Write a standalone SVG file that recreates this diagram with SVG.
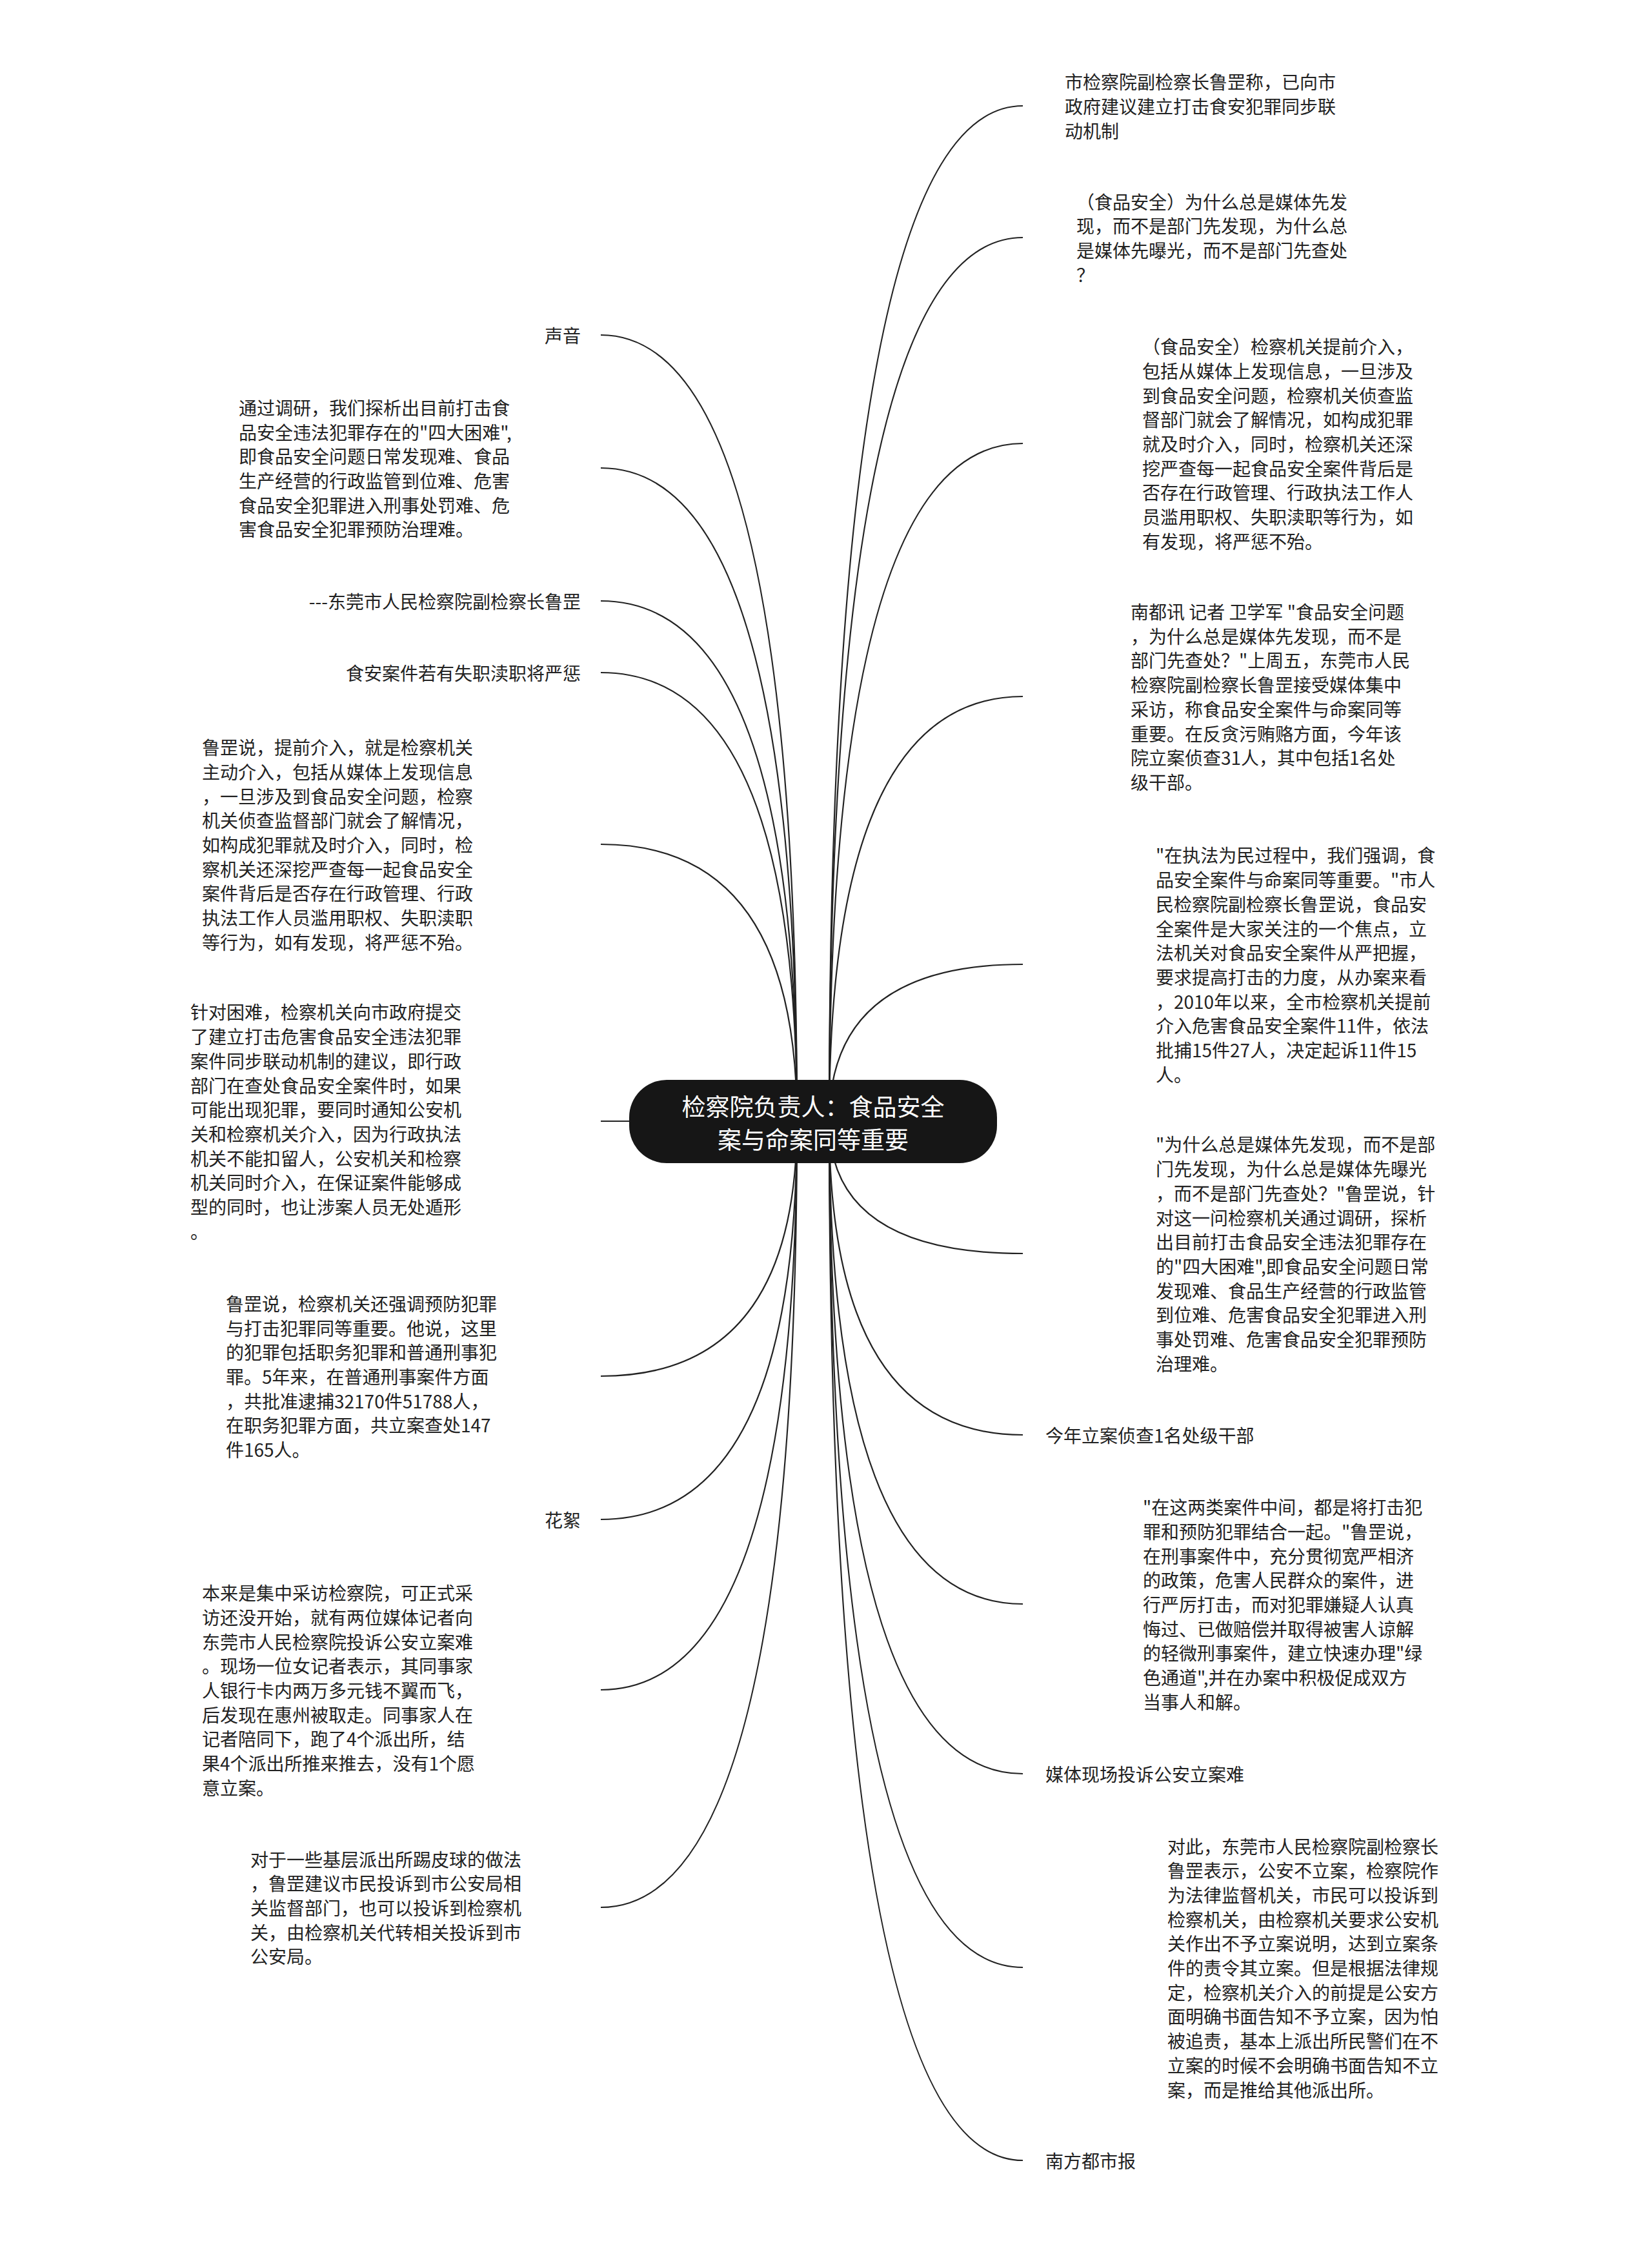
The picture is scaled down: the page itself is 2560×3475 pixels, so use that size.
<svg xmlns="http://www.w3.org/2000/svg" width="2560" height="3475" viewBox="0 0 2560 3475">
<style>
.bg{fill:#ffffff}
.edge{fill:none;stroke:#222;stroke-width:2.2}
.t{font-family:"Noto Sans CJK SC","Noto Sans",sans-serif;font-size:28px;fill:#222;dominant-baseline:central}
.r{text-anchor:end}
.root rect{fill:#161616}
.root text{font-family:"Noto Sans CJK SC","Noto Sans",sans-serif;font-size:37px;fill:#ffffff;text-anchor:middle;dominant-baseline:central}
</style>
<rect class="bg" x="0" y="0" width="2560" height="3475"/>
<g id="connectors">
<path class="edge" d="M1285 1737 Q1285 164 1585 164"/>
<path class="edge" d="M1285 1737 Q1285 368 1585 368"/>
<path class="edge" d="M1285 1737 Q1285 687 1585 687"/>
<path class="edge" d="M1285 1737 Q1285 1079 1585 1079"/>
<path class="edge" d="M1285 1737 Q1285 1494 1585 1494"/>
<path class="edge" d="M1285 1737 Q1285 1942 1585 1942"/>
<path class="edge" d="M1285 1737 Q1285 2223 1585 2223"/>
<path class="edge" d="M1285 1737 Q1285 2485 1585 2485"/>
<path class="edge" d="M1285 1737 Q1285 2748 1585 2748"/>
<path class="edge" d="M1285 1737 Q1285 3048 1585 3048"/>
<path class="edge" d="M1285 1737 Q1285 3347 1585 3347"/>
<path class="edge" d="M1235 1737 Q1235 519 931 519"/>
<path class="edge" d="M1235 1737 Q1235 725 931 725"/>
<path class="edge" d="M1235 1737 Q1235 931 931 931"/>
<path class="edge" d="M1235 1737 Q1235 1042 931 1042"/>
<path class="edge" d="M1235 1737 Q1235 1308 931 1308"/>
<path class="edge" d="M1235 1737 L931 1737"/>
<path class="edge" d="M1235 1737 Q1235 2132 931 2132"/>
<path class="edge" d="M1235 1737 Q1235 2354 931 2354"/>
<path class="edge" d="M1235 1737 Q1235 2618 931 2618"/>
<path class="edge" d="M1235 1737 Q1235 2955 931 2955"/>
</g>
<g id="root" class="root">
<rect x="975" y="1673" width="570" height="129" rx="58" ry="58"/>
<text x="1260" y="1713">检察院负责人：食品安全</text>
<text x="1260" y="1764">案与命案同等重要</text>
</g>
<g id="r1"><text class="t" x="1650" y="126.3"><tspan x="1650">市检察院副检察长鲁罡称，已向市</tspan><tspan x="1650" dy="37.7">政府建议建立打击食安犯罪同步联</tspan><tspan x="1650" dy="37.7">动机制</tspan></text></g>
<g id="r2"><text class="t" x="1668" y="311.5"><tspan x="1668">（食品安全）为什么总是媒体先发</tspan><tspan x="1668" dy="37.7">现，而不是部门先发现，为什么总</tspan><tspan x="1668" dy="37.7">是媒体先曝光，而不是部门先查处</tspan><tspan x="1668" dy="37.7">？</tspan></text></g>
<g id="r3"><text class="t" x="1770" y="536.2"><tspan x="1770">（食品安全）检察机关提前介入，</tspan><tspan x="1770" dy="37.7">包括从媒体上发现信息，一旦涉及</tspan><tspan x="1770" dy="37.7">到食品安全问题，检察机关侦查监</tspan><tspan x="1770" dy="37.7">督部门就会了解情况，如构成犯罪</tspan><tspan x="1770" dy="37.7">就及时介入，同时，检察机关还深</tspan><tspan x="1770" dy="37.7">挖严查每一起食品安全案件背后是</tspan><tspan x="1770" dy="37.7">否存在行政管理、行政执法工作人</tspan><tspan x="1770" dy="37.7">员滥用职权、失职渎职等行为，如</tspan><tspan x="1770" dy="37.7">有发现，将严惩不殆。</tspan></text></g>
<g id="r4"><text class="t" x="1752" y="947"><tspan x="1752">南都讯 记者 卫学军 "食品安全问题</tspan><tspan x="1752" dy="37.7">，为什么总是媒体先发现，而不是</tspan><tspan x="1752" dy="37.7">部门先查处？"上周五，东莞市人民</tspan><tspan x="1752" dy="37.7">检察院副检察长鲁罡接受媒体集中</tspan><tspan x="1752" dy="37.7">采访，称食品安全案件与命案同等</tspan><tspan x="1752" dy="37.7">重要。在反贪污贿赂方面，今年该</tspan><tspan x="1752" dy="37.7">院立案侦查31人，其中包括1名处</tspan><tspan x="1752" dy="37.7">级干部。</tspan></text></g>
<g id="r5"><text class="t" x="1791" y="1324.4"><tspan x="1791">"在执法为民过程中，我们强调，食</tspan><tspan x="1791" dy="37.7">品安全案件与命案同等重要。"市人</tspan><tspan x="1791" dy="37.7">民检察院副检察长鲁罡说，食品安</tspan><tspan x="1791" dy="37.7">全案件是大家关注的一个焦点，立</tspan><tspan x="1791" dy="37.7">法机关对食品安全案件从严把握，</tspan><tspan x="1791" dy="37.7">要求提高打击的力度，从办案来看</tspan><tspan x="1791" dy="37.7">，2010年以来，全市检察机关提前</tspan><tspan x="1791" dy="37.7">介入危害食品安全案件11件，依法</tspan><tspan x="1791" dy="37.7">批捕15件27人，决定起诉11件15</tspan><tspan x="1791" dy="37.7">人。</tspan></text></g>
<g id="r6"><text class="t" x="1791" y="1772.4"><tspan x="1791">"为什么总是媒体先发现，而不是部</tspan><tspan x="1791" dy="37.7">门先发现，为什么总是媒体先曝光</tspan><tspan x="1791" dy="37.7">，而不是部门先查处？"鲁罡说，针</tspan><tspan x="1791" dy="37.7">对这一问检察机关通过调研，探析</tspan><tspan x="1791" dy="37.7">出目前打击食品安全违法犯罪存在</tspan><tspan x="1791" dy="37.7">的"四大困难",即食品安全问题日常</tspan><tspan x="1791" dy="37.7">发现难、食品生产经营的行政监管</tspan><tspan x="1791" dy="37.7">到位难、危害食品安全犯罪进入刑</tspan><tspan x="1791" dy="37.7">事处罚难、危害食品安全犯罪预防</tspan><tspan x="1791" dy="37.7">治理难。</tspan></text></g>
<g id="r7"><text class="t" x="1620" y="2223">今年立案侦查1名处级干部</text></g>
<g id="r8"><text class="t" x="1771" y="2334.2"><tspan x="1771">"在这两类案件中间，都是将打击犯</tspan><tspan x="1771" dy="37.7">罪和预防犯罪结合一起。"鲁罡说，</tspan><tspan x="1771" dy="37.7">在刑事案件中，充分贯彻宽严相济</tspan><tspan x="1771" dy="37.7">的政策，危害人民群众的案件，进</tspan><tspan x="1771" dy="37.7">行严厉打击，而对犯罪嫌疑人认真</tspan><tspan x="1771" dy="37.7">悔过、已做赔偿并取得被害人谅解</tspan><tspan x="1771" dy="37.7">的轻微刑事案件，建立快速办理"绿</tspan><tspan x="1771" dy="37.7">色通道",并在办案中积极促成双方</tspan><tspan x="1771" dy="37.7">当事人和解。</tspan></text></g>
<g id="r9"><text class="t" x="1620" y="2748">媒体现场投诉公安立案难</text></g>
<g id="r10"><text class="t" x="1809" y="2859.5"><tspan x="1809">对此，东莞市人民检察院副检察长</tspan><tspan x="1809" dy="37.7">鲁罡表示，公安不立案，检察院作</tspan><tspan x="1809" dy="37.7">为法律监督机关，市民可以投诉到</tspan><tspan x="1809" dy="37.7">检察机关，由检察机关要求公安机</tspan><tspan x="1809" dy="37.7">关作出不予立案说明，达到立案条</tspan><tspan x="1809" dy="37.7">件的责令其立案。但是根据法律规</tspan><tspan x="1809" dy="37.7">定，检察机关介入的前提是公安方</tspan><tspan x="1809" dy="37.7">面明确书面告知不予立案，因为怕</tspan><tspan x="1809" dy="37.7">被追责，基本上派出所民警们在不</tspan><tspan x="1809" dy="37.7">立案的时候不会明确书面告知不立</tspan><tspan x="1809" dy="37.7">案，而是推给其他派出所。</tspan></text></g>
<g id="r11"><text class="t" x="1620" y="3347">南方都市报</text></g>
<g id="l1"><text class="t r" x="900" y="519">声音</text></g>
<g id="l2"><text class="t" x="370" y="630.8"><tspan x="370">通过调研，我们探析出目前打击食</tspan><tspan x="370" dy="37.7">品安全违法犯罪存在的"四大困难",</tspan><tspan x="370" dy="37.7">即食品安全问题日常发现难、食品</tspan><tspan x="370" dy="37.7">生产经营的行政监管到位难、危害</tspan><tspan x="370" dy="37.7">食品安全犯罪进入刑事处罚难、危</tspan><tspan x="370" dy="37.7">害食品安全犯罪预防治理难。</tspan></text></g>
<g id="l3"><text class="t r" x="900" y="931">---东莞市人民检察院副检察长鲁罡</text></g>
<g id="l4"><text class="t r" x="900" y="1042">食安案件若有失职渎职将严惩</text></g>
<g id="l5"><text class="t" x="313" y="1157.2"><tspan x="313">鲁罡说，提前介入，就是检察机关</tspan><tspan x="313" dy="37.7">主动介入，包括从媒体上发现信息</tspan><tspan x="313" dy="37.7">，一旦涉及到食品安全问题，检察</tspan><tspan x="313" dy="37.7">机关侦查监督部门就会了解情况，</tspan><tspan x="313" dy="37.7">如构成犯罪就及时介入，同时，检</tspan><tspan x="313" dy="37.7">察机关还深挖严查每一起食品安全</tspan><tspan x="313" dy="37.7">案件背后是否存在行政管理、行政</tspan><tspan x="313" dy="37.7">执法工作人员滥用职权、失职渎职</tspan><tspan x="313" dy="37.7">等行为，如有发现，将严惩不殆。</tspan></text></g>
<g id="l6"><text class="t" x="295" y="1567.4"><tspan x="295">针对困难，检察机关向市政府提交</tspan><tspan x="295" dy="37.7">了建立打击危害食品安全违法犯罪</tspan><tspan x="295" dy="37.7">案件同步联动机制的建议，即行政</tspan><tspan x="295" dy="37.7">部门在查处食品安全案件时，如果</tspan><tspan x="295" dy="37.7">可能出现犯罪，要同时通知公安机</tspan><tspan x="295" dy="37.7">关和检察机关介入，因为行政执法</tspan><tspan x="295" dy="37.7">机关不能扣留人，公安机关和检察</tspan><tspan x="295" dy="37.7">机关同时介入，在保证案件能够成</tspan><tspan x="295" dy="37.7">型的同时，也让涉案人员无处遁形</tspan><tspan x="295" dy="37.7">。</tspan></text></g>
<g id="l7"><text class="t" x="350" y="2018.9"><tspan x="350">鲁罡说，检察机关还强调预防犯罪</tspan><tspan x="350" dy="37.7">与打击犯罪同等重要。他说，这里</tspan><tspan x="350" dy="37.7">的犯罪包括职务犯罪和普通刑事犯</tspan><tspan x="350" dy="37.7">罪。5年来，在普通刑事案件方面</tspan><tspan x="350" dy="37.7">，共批准逮捕32170件51788人，</tspan><tspan x="350" dy="37.7">在职务犯罪方面，共立案查处147</tspan><tspan x="350" dy="37.7">件165人。</tspan></text></g>
<g id="l8"><text class="t r" x="900" y="2354">花絮</text></g>
<g id="l9"><text class="t" x="313" y="2467.2"><tspan x="313">本来是集中采访检察院，可正式采</tspan><tspan x="313" dy="37.7">访还没开始，就有两位媒体记者向</tspan><tspan x="313" dy="37.7">东莞市人民检察院投诉公安立案难</tspan><tspan x="313" dy="37.7">。现场一位女记者表示，其同事家</tspan><tspan x="313" dy="37.7">人银行卡内两万多元钱不翼而飞，</tspan><tspan x="313" dy="37.7">后发现在惠州被取走。同事家人在</tspan><tspan x="313" dy="37.7">记者陪同下，跑了4个派出所，结</tspan><tspan x="313" dy="37.7">果4个派出所推来推去，没有1个愿</tspan><tspan x="313" dy="37.7">意立案。</tspan></text></g>
<g id="l10"><text class="t" x="388" y="2879.6"><tspan x="388">对于一些基层派出所踢皮球的做法</tspan><tspan x="388" dy="37.7">，鲁罡建议市民投诉到市公安局相</tspan><tspan x="388" dy="37.7">关监督部门，也可以投诉到检察机</tspan><tspan x="388" dy="37.7">关，由检察机关代转相关投诉到市</tspan><tspan x="388" dy="37.7">公安局。</tspan></text></g>
</svg>
